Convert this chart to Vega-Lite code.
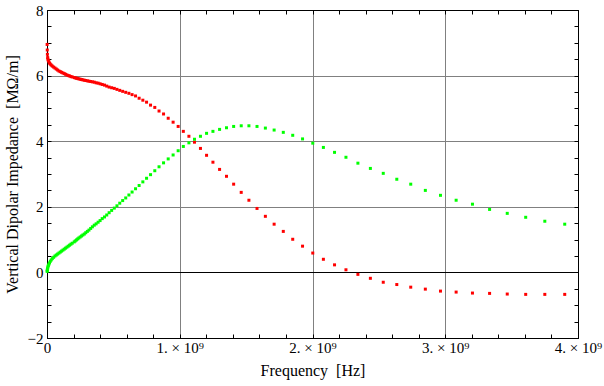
{
  "$schema": "https://vega.github.io/schema/vega-lite/v6.json",
  "width": 531,
  "height": 328,
  "autosize": {"type": "none"},
  "padding": {"left": 47, "top": 10, "right": 26, "bottom": 48},
  "background": "white",
  "config": {"view": {"stroke": "black", "strokeWidth": 1}, "font": "Liberation Serif"},
  "data": {"values": [
    {"f": 1e6, "re": 6.95, "im": 0.03},
    {"f": 2e6, "re": 6.78, "im": 0.06},
    {"f": 3e6, "re": 6.65, "im": 0.09},
    {"f": 5e6, "re": 6.55, "im": 0.13},
    {"f": 7e6, "re": 6.50, "im": 0.17},
    {"f": 1.0e7, "re": 6.46, "im": 0.21},
    {"f": 1.4e7, "re": 6.42, "im": 0.25},
    {"f": 1.9e7, "re": 6.38, "im": 0.29},
    {"f": 2.5e7, "re": 6.35, "im": 0.34},
    {"f": 3.2e7, "re": 6.32, "im": 0.38},
    {"f": 4.0e7, "re": 6.29, "im": 0.42},
    {"f": 5.0e7, "re": 6.26, "im": 0.46},
    {"f": 6.0e7, "re": 6.23, "im": 0.50},
    {"f": 7.0e7, "re": 6.20, "im": 0.53},
    {"f": 8.0e7, "re": 6.17, "im": 0.56},
    {"f": 9.0e7, "re": 6.14, "im": 0.59},
    {"f": 1.00e8, "re": 6.12, "im": 0.62},
    {"f": 1.10e8, "re": 6.10, "im": 0.65},
    {"f": 1.20e8, "re": 6.08, "im": 0.68},
    {"f": 1.30e8, "re": 6.06, "im": 0.71},
    {"f": 1.40e8, "re": 6.04, "im": 0.74},
    {"f": 1.50e8, "re": 6.02, "im": 0.77},
    {"f": 1.60e8, "re": 6.00, "im": 0.80},
    {"f": 1.70e8, "re": 5.99, "im": 0.83},
    {"f": 1.80e8, "re": 5.97, "im": 0.86},
    {"f": 1.90e8, "re": 5.96, "im": 0.89},
    {"f": 2.05e8, "re": 5.94, "im": 0.93},
    {"f": 2.13e8, "re": 5.93, "im": 0.96},
    {"f": 2.22e8, "re": 5.92, "im": 0.99},
    {"f": 2.31e8, "re": 5.91, "im": 1.02},
    {"f": 2.40e8, "re": 5.90, "im": 1.05},
    {"f": 2.50e8, "re": 5.89, "im": 1.08},
    {"f": 2.60e8, "re": 5.88, "im": 1.11},
    {"f": 2.70e8, "re": 5.87, "im": 1.14},
    {"f": 2.81e8, "re": 5.86, "im": 1.17},
    {"f": 2.92e8, "re": 5.85, "im": 1.21},
    {"f": 3.04e8, "re": 5.84, "im": 1.25},
    {"f": 3.16e8, "re": 5.83, "im": 1.29},
    {"f": 3.29e8, "re": 5.82, "im": 1.34},
    {"f": 3.42e8, "re": 5.81, "im": 1.39},
    {"f": 3.56e8, "re": 5.80, "im": 1.44},
    {"f": 3.70e8, "re": 5.78, "im": 1.48},
    {"f": 3.85e8, "re": 5.77, "im": 1.53},
    {"f": 4.00e8, "re": 5.75, "im": 1.58},
    {"f": 4.16e8, "re": 5.73, "im": 1.64},
    {"f": 4.33e8, "re": 5.71, "im": 1.69},
    {"f": 4.50e8, "re": 5.68, "im": 1.75},
    {"f": 4.68e8, "re": 5.65, "im": 1.82},
    {"f": 4.87e8, "re": 5.63, "im": 1.89},
    {"f": 5.07e8, "re": 5.61, "im": 1.96},
    {"f": 5.27e8, "re": 5.58, "im": 2.03},
    {"f": 5.48e8, "re": 5.55, "im": 2.11},
    {"f": 5.70e8, "re": 5.52, "im": 2.19},
    {"f": 5.93e8, "re": 5.49, "im": 2.27},
    {"f": 6.17e8, "re": 5.46, "im": 2.36},
    {"f": 6.41e8, "re": 5.42, "im": 2.45},
    {"f": 6.67e8, "re": 5.38, "im": 2.55},
    {"f": 6.94e8, "re": 5.31, "im": 2.65},
    {"f": 7.22e8, "re": 5.25, "im": 2.76},
    {"f": 7.50e8, "re": 5.19, "im": 2.87},
    {"f": 7.80e8, "re": 5.10, "im": 2.98},
    {"f": 8.12e8, "re": 5.03, "im": 3.10},
    {"f": 8.44e8, "re": 4.92, "im": 3.22},
    {"f": 8.78e8, "re": 4.83, "im": 3.34},
    {"f": 9.13e8, "re": 4.70, "im": 3.46},
    {"f": 9.50e8, "re": 4.58, "im": 3.58},
    {"f": 9.88e8, "re": 4.45, "im": 3.71},
    {"f": 1.027e9, "re": 4.30, "im": 3.84},
    {"f": 1.069e9, "re": 4.15, "im": 3.95},
    {"f": 1.111e9, "re": 3.97, "im": 4.06},
    {"f": 1.156e9, "re": 3.78, "im": 4.15},
    {"f": 1.202e9, "re": 3.57, "im": 4.24},
    {"f": 1.250e9, "re": 3.36, "im": 4.30},
    {"f": 1.300e9, "re": 3.14, "im": 4.36},
    {"f": 1.352e9, "re": 2.93, "im": 4.41},
    {"f": 1.406e9, "re": 2.69, "im": 4.45},
    {"f": 1.463e9, "re": 2.44, "im": 4.47},
    {"f": 1.521e9, "re": 2.20, "im": 4.47},
    {"f": 1.582e9, "re": 1.95, "im": 4.45},
    {"f": 1.645e9, "re": 1.71, "im": 4.40},
    {"f": 1.711e9, "re": 1.47, "im": 4.34},
    {"f": 1.780e9, "re": 1.25, "im": 4.27},
    {"f": 1.851e9, "re": 1.01, "im": 4.18},
    {"f": 1.925e9, "re": 0.80, "im": 4.07},
    {"f": 2.002e9, "re": 0.59, "im": 3.94},
    {"f": 2.082e9, "re": 0.40, "im": 3.81},
    {"f": 2.166e9, "re": 0.23, "im": 3.66},
    {"f": 2.252e9, "re": 0.08, "im": 3.51},
    {"f": 2.342e9, "re": -0.06, "im": 3.33},
    {"f": 2.436e9, "re": -0.18, "im": 3.17},
    {"f": 2.533e9, "re": -0.30, "im": 3.02},
    {"f": 2.635e9, "re": -0.37, "im": 2.84},
    {"f": 2.740e9, "re": -0.45, "im": 2.69},
    {"f": 2.850e9, "re": -0.51, "im": 2.50},
    {"f": 2.964e9, "re": -0.57, "im": 2.35},
    {"f": 3.082e9, "re": -0.60, "im": 2.20},
    {"f": 3.205e9, "re": -0.63, "im": 2.08},
    {"f": 3.334e9, "re": -0.64, "im": 1.92},
    {"f": 3.467e9, "re": -0.66, "im": 1.80},
    {"f": 3.606e9, "re": -0.67, "im": 1.68},
    {"f": 3.750e9, "re": -0.67, "im": 1.56},
    {"f": 3.900e9, "re": -0.67, "im": 1.47}
  ]},
  "layer": [
    {
      "mark": {"type": "square", "size": 9, "color": "#ff0000", "opacity": 1, "filled": true, "strokeWidth": 0},
      "encoding": {
        "x": {
          "field": "f", "type": "quantitative",
          "scale": {"domain": [0, 4000000000], "nice": false, "zero": false},
          "axis": {
            "orient": "bottom",
            "values": [0, 200000000, 400000000, 600000000, 800000000, 1000000000, 1200000000, 1400000000, 1600000000, 1800000000, 2000000000, 2200000000, 2400000000, 2600000000, 2800000000, 3000000000, 3200000000, 3400000000, 3600000000, 3800000000, 4000000000],
            "tickSize": -4, "tickColor": "black", "tickWidth": 1,
            "domain": true, "domainColor": "black",
            "labelExpr": "datum.value % 1000000000 === 0 ? (datum.value === 0 ? '0' : format(datum.value / 1000000000, 'd') + '. × 10⁹') : ''",
            "labelFont": "Liberation Serif", "labelFontSize": 15, "labelColor": "black",
            "labelPadding": 6, "labelFlush": false, "labelOverlap": false, "labelBound": false,
            "grid": true, "gridColor": "#808080", "gridWidth": 1,
            "gridOpacity": {"condition": {"test": "datum.value % 1000000000 === 0 && datum.value > 0 && datum.value < 4000000000", "value": 1}, "value": 0},
            "title": "Frequency\u00a0\u00a0[Hz]",
            "titleFont": "Liberation Serif", "titleFontSize": 16, "titleFontWeight": "normal", "titleColor": "black",
            "titlePadding": 7
          }
        },
        "y": {
          "field": "re", "type": "quantitative",
          "scale": {"domain": [-2, 8], "nice": false, "zero": false},
          "axis": {
            "orient": "left",
            "values": [-2, -1.5, -1, -0.5, 0, 0.5, 1, 1.5, 2, 2.5, 3, 3.5, 4, 4.5, 5, 5.5, 6, 6.5, 7, 7.5, 8],
            "tickSize": -4, "tickColor": "black", "tickWidth": 1,
            "domain": true, "domainColor": "black",
            "labelExpr": "datum.value % 2 === 0 ? format(datum.value, 'd') : ''",
            "labelFont": "Liberation Serif", "labelFontSize": 15, "labelColor": "black",
            "labelPadding": 8, "labelFlush": false, "labelOverlap": false, "labelBound": false,
            "grid": true, "gridWidth": 1,
            "gridColor": {"condition": {"test": "datum.value === 0", "value": "black"}, "value": "#808080"},
            "gridOpacity": {"condition": {"test": "datum.value % 2 === 0 && datum.value > -2 && datum.value < 8", "value": 1}, "value": 0},
            "title": "Vertical Dipolar Impedance\u00a0\u00a0[MΩ/m]",
            "titleFont": "Liberation Serif", "titleFontSize": 16, "titleFontWeight": "normal", "titleColor": "black",
            "titlePadding": 7
          }
        }
      }
    },
    {
      "mark": {"type": "square", "size": 9, "color": "#00ff00", "opacity": 1, "filled": true, "strokeWidth": 0},
      "encoding": {
        "x": {
          "field": "f", "type": "quantitative",
          "axis": {
            "orient": "top",
            "values": [0, 200000000, 400000000, 600000000, 800000000, 1000000000, 1200000000, 1400000000, 1600000000, 1800000000, 2000000000, 2200000000, 2400000000, 2600000000, 2800000000, 3000000000, 3200000000, 3400000000, 3600000000, 3800000000, 4000000000],
            "tickSize": -4, "tickColor": "black", "domain": true, "domainColor": "black",
            "labels": false, "grid": false, "title": null
          }
        },
        "y": {
          "field": "im", "type": "quantitative",
          "axis": {
            "orient": "right",
            "values": [-2, -1.5, -1, -0.5, 0, 0.5, 1, 1.5, 2, 2.5, 3, 3.5, 4, 4.5, 5, 5.5, 6, 6.5, 7, 7.5, 8],
            "tickSize": -4, "tickColor": "black", "domain": true, "domainColor": "black",
            "labels": false, "grid": false, "title": null
          }
        }
      }
    }
  ],
  "resolve": {"axis": {"x": "independent", "y": "independent"}}
}
